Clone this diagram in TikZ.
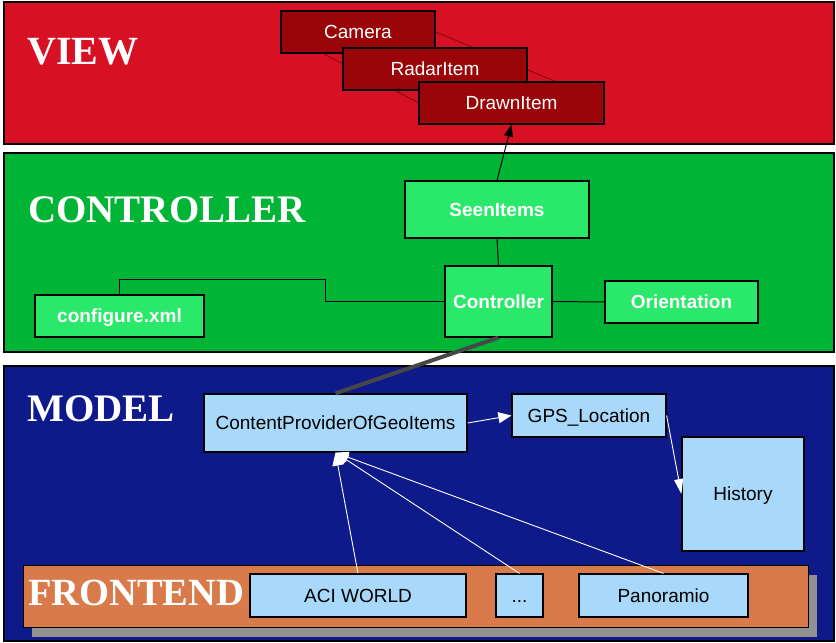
\documentclass[tikz,border=0pt]{standalone}
\usepackage{fontspec}
\setmainfont{Liberation Serif}
\newfontfamily\arialf{Liberation Sans}
\usetikzlibrary{arrows.meta,calc}
\definecolor{viewred}{RGB}{215,16,35}
\definecolor{darkred}{RGB}{153,5,8}
\definecolor{ctrlgreen}{RGB}{0,181,54}
\definecolor{lightgreen}{RGB}{42,232,106}
\definecolor{modelblue}{RGB}{14,26,138}
\definecolor{lightblue}{RGB}{168,216,250}
\definecolor{feorange}{RGB}{217,122,74}
\definecolor{shadowgray}{RGB}{145,145,145}
\begin{document}
\begin{tikzpicture}[x=1pt,y=-1pt,
  panel/.style={draw=black,line width=1.4pt},
  layerlabel/.style={anchor=base west,inner sep=0pt,text=white,font=\bfseries\fontsize{40}{40}\selectfont},
  boxbase/.style={draw=black,line width=1.2pt,inner sep=0pt,text height=15pt,text depth=1.4pt},
  viewbox/.style={boxbase,fill=darkred,text=white,font=\arialf\fontsize{19}{20}\selectfont},
  ctrlbox/.style={boxbase,fill=lightgreen,text=white,font=\arialf\bfseries\fontsize{19}{20}\selectfont},
  modbox/.style={boxbase,fill=lightblue,text=black,font=\arialf\fontsize{19}{20}\selectfont},
  wline/.style={draw=white,line width=0.9pt},
  warrow/.style={wline,-{Triangle[fill=white,length=13pt,width=11pt]}},
  cline/.style={draw=black,line width=1pt}]
\useasboundingbox (0,0) rectangle (836,643);
% panels
\draw[panel,fill=viewred] (4,2) rectangle (834,144);
\draw[panel,fill=ctrlgreen] (4,153) rectangle (834,352);
\draw[panel,fill=modelblue] (4,366) rectangle (834,641);
\fill[shadowgray] (32,575) rectangle (817,637);
\draw[draw=black,line width=1pt,fill=feorange] (23,565) rectangle (808,627);
% layer labels
\node[layerlabel] (lview) at (27,64) {VIEW};
\node[layerlabel,font=\bfseries\fontsize{39}{39}\selectfont] (lctrl) at (28,222) {CONTROLLER};
\node[layerlabel,font=\bfseries\fontsize{39}{39}\selectfont] (lmodel) at (27,421) {MODEL};
\node[layerlabel,font=\bfseries\fontsize{38.5}{38.5}\selectfont] (lfront) at (28,605) {FRONTEND};
% view connectors behind boxes
\coordinate (cam1) at (322,53);
\coordinate (drw1) at (557,82);
% view boxes
\node[viewbox,minimum width=154pt,minimum height=42pt] (Camera) at (358,32) {Camera};
\draw[darkred!70!black,line width=0.6pt] (Camera.east) -- (drw1);
\draw[darkred!70!black,line width=0.6pt] (cam1) -- (419,103);
\node[viewbox,minimum width=184pt,minimum height=42pt] (Radar) at (435,69) {RadarItem};
\node[viewbox,minimum width=185pt,minimum height=42pt] (Drawn) at (511.5,103) {DrawnItem};
% controller boxes
\node[ctrlbox,minimum width=184pt,minimum height=57pt] (Seen) at (497,209.5) {SeenItems};
\node[ctrlbox,minimum width=107pt,minimum height=71pt] (Ctrl) at (498.5,301.5) {Controller};
\node[ctrlbox,minimum width=153pt,minimum height=42pt] (Orient) at (681.5,302) {Orientation};
\node[ctrlbox,minimum width=169pt,minimum height=42pt] (Conf) at (119.5,316) {configure.xml};
% model boxes
\node[modbox,minimum width=263pt,minimum height=58pt] (CP) at (335.5,423) {ContentProviderOfGeoItems};
\node[modbox,minimum width=154pt,minimum height=43pt] (GPS) at (589,415.5) {GPS\_Location};
\node[modbox,minimum width=122pt,minimum height=114pt] (Hist) at (743,494) {History};
% frontend boxes
\node[modbox,minimum width=216pt,minimum height=43pt] (ACI) at (358,595.5) {ACI WORLD};
\node[modbox,minimum width=47pt,minimum height=43pt] (Dots) at (519.5,595.5) {...};
\node[modbox,minimum width=169pt,minimum height=43pt] (Pano) at (663.5,595.5) {Panoramio};
% connectors
\draw[cline,-{Triangle[length=12pt,width=9pt]}] (Seen.north) -- (Drawn.south);
\draw[cline] (Seen.south) -- (Ctrl.north);
\coordinate (bend) at (325,279);
\draw[cline] (Conf.north) |- (bend) |- (Ctrl.west);
\draw[cline] (Ctrl.east) -- (Orient.west);
\draw[draw=black!72,line width=4pt] (Ctrl.south) -- (CP.north);
\draw[warrow] (CP.east) -- (GPS.west);
\draw[warrow,-{Triangle[fill=white,length=15pt,width=9pt]}] (GPS.east) -- (Hist.west);
\draw[warrow] (ACI.north) -- (CP.south);
\draw[warrow] (Dots.north) -- (CP.south);
\draw[warrow] (Pano.north) -- (CP.south);
\end{tikzpicture}
\end{document}
